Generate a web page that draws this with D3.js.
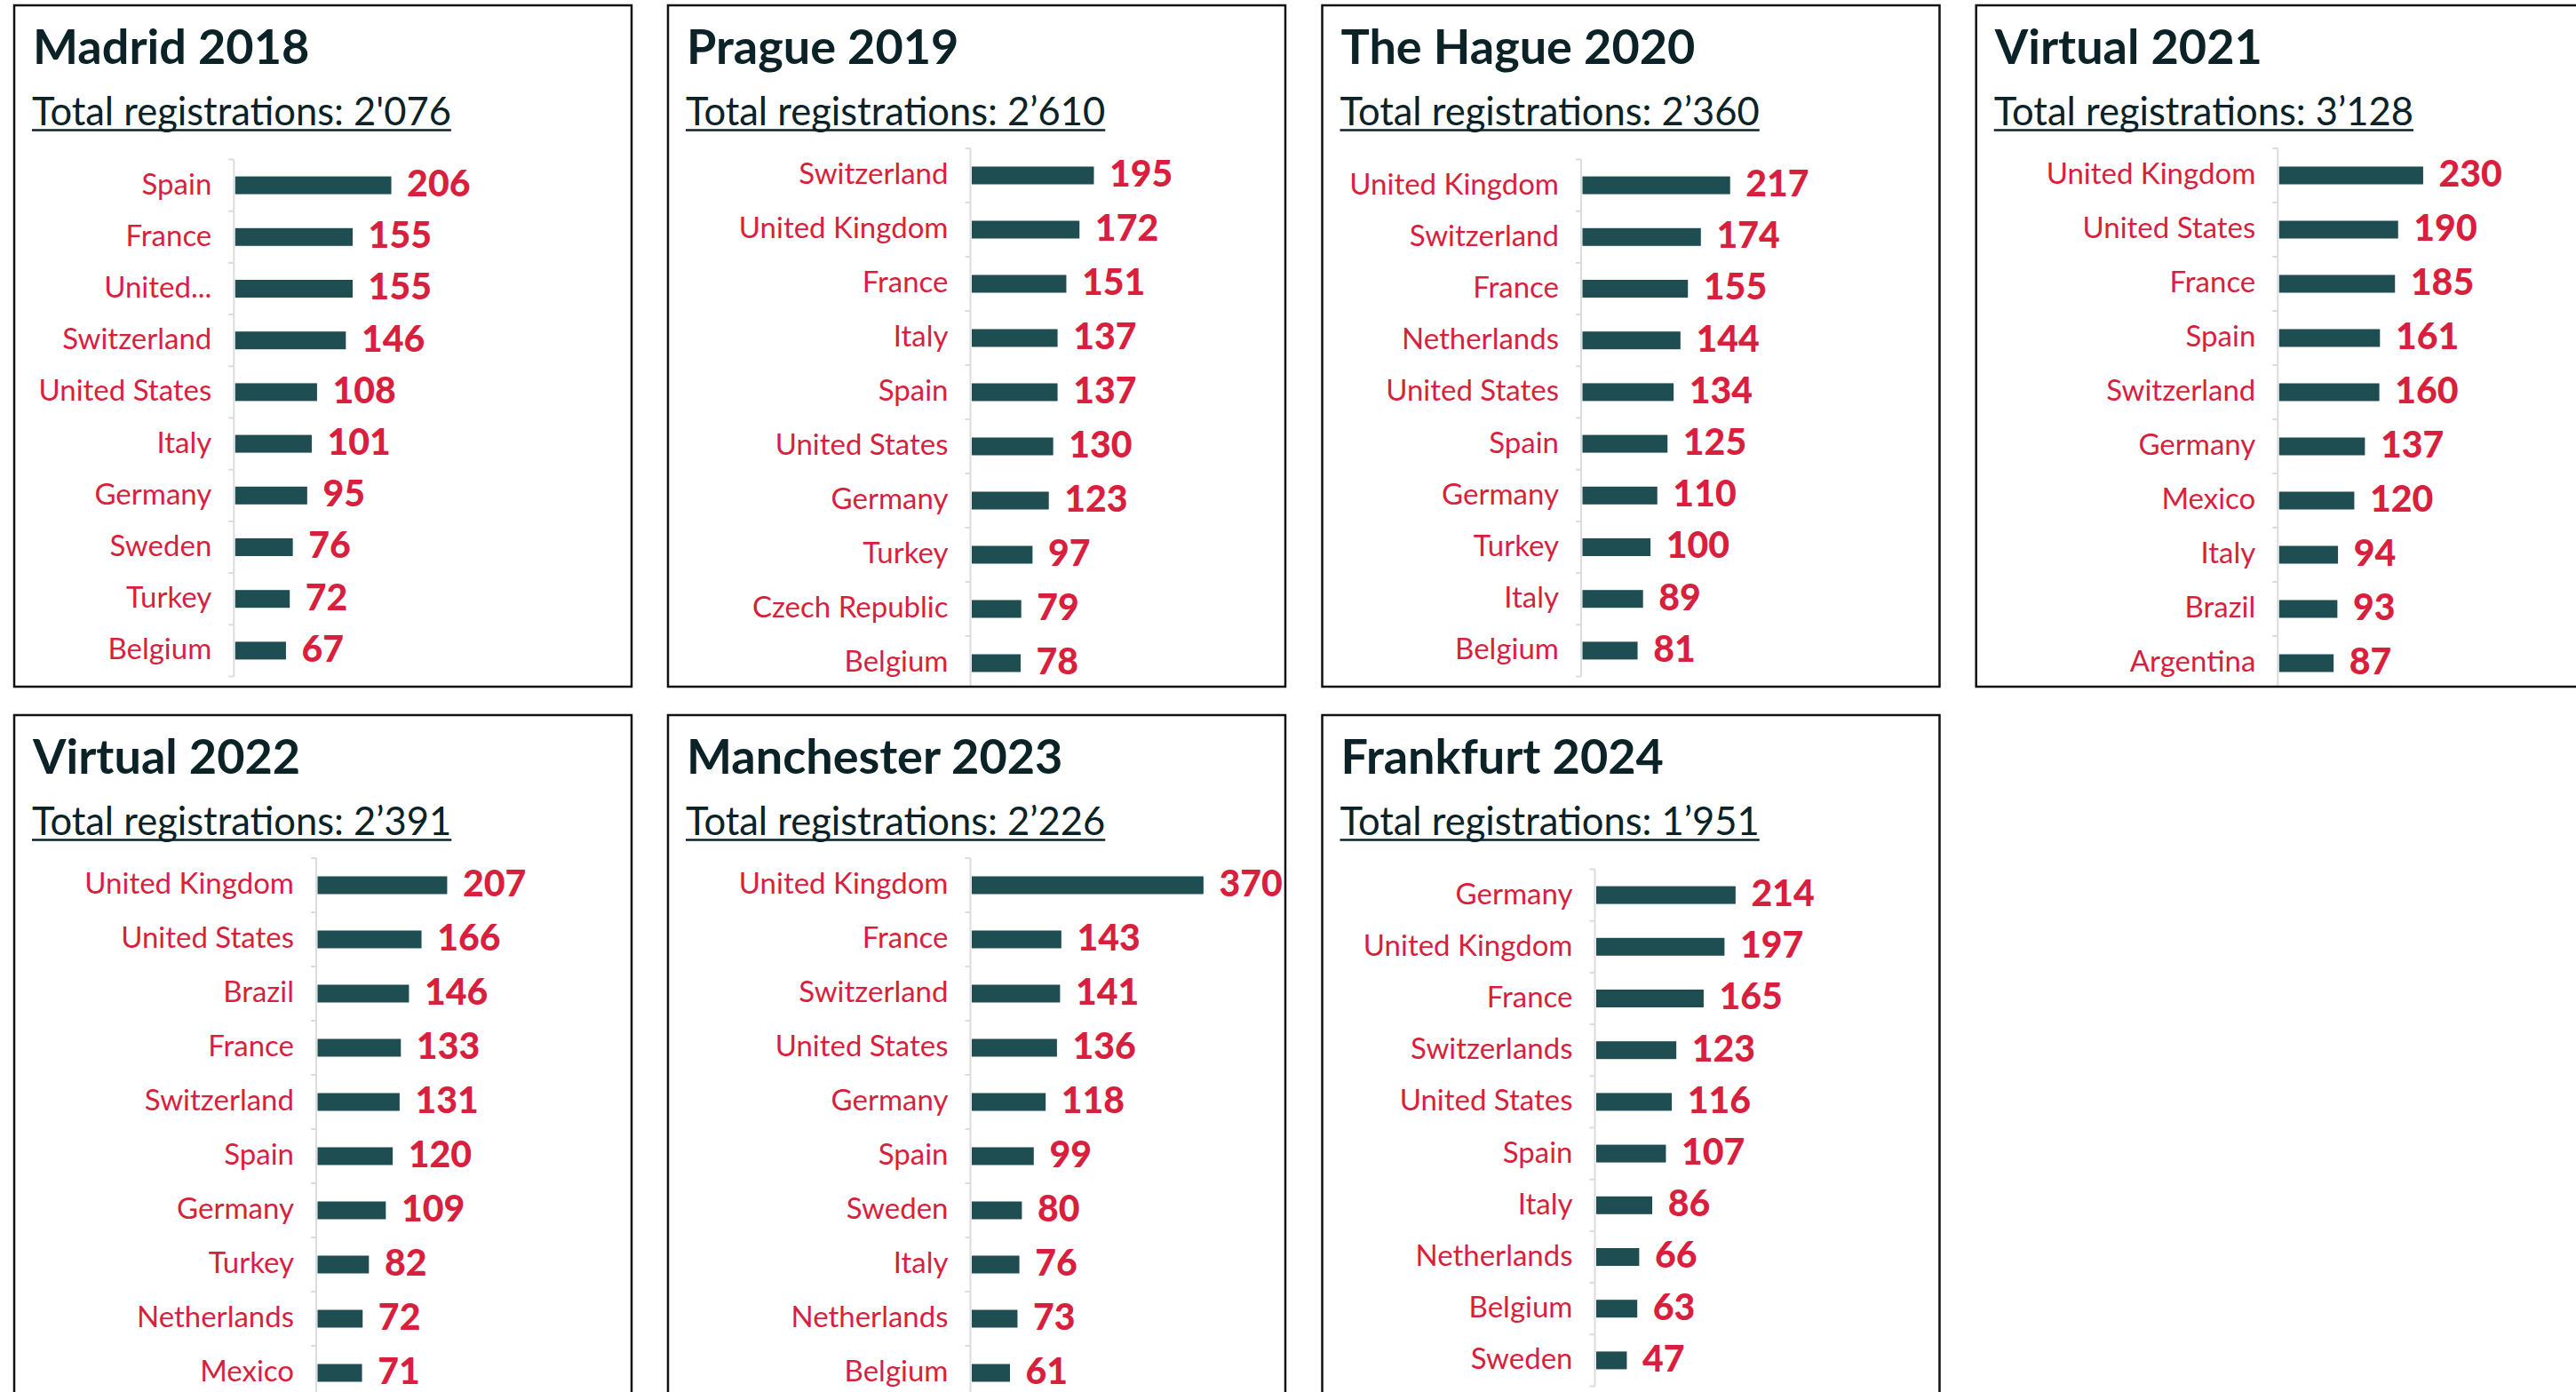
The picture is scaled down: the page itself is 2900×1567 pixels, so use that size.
<!DOCTYPE html>
<html>
<head>
<meta charset="utf-8">
<script src="https://cdn.jsdelivr.net/npm/d3@7"></script>
<style>
  body { margin: 0; background: #fff; }
  svg { display: block; }
</style>
</head>
<body>
<div id="chart"></div>
<script>
// registrations by country, one pair of arrays per event
const titles = ["Madrid 2018", "Prague 2019", "The Hague 2020", "Virtual 2021", "Virtual 2022", "Manchester 2023", "Frankfurt 2024"];
const totals = ["2'076", "2’610", "2’360", "3’128", "2’391", "2’226", "1’951"];

// the Madrid chart shows United Kingdom cut short
const madridCountries = ["Spain", "France", "United...", "Switzerland", "United States", "Italy", "Germany", "Sweden", "Turkey", "Belgium"];
const madridValues = [206, 155, 155, 146, 108, 101, 95, 76, 72, 67];

const pragueCountries = ["Switzerland", "United Kingdom", "France", "Italy", "Spain", "United States", "Germany", "Turkey", "Czech Republic", "Belgium"];
const pragueValues = [195, 172, 151, 137, 137, 130, 123, 97, 79, 78];

const hagueCountries = ["United Kingdom", "Switzerland", "France", "Netherlands", "United States", "Spain", "Germany", "Turkey", "Italy", "Belgium"];
const hagueValues = [217, 174, 155, 144, 134, 125, 110, 100, 89, 81];

const virtual21Countries = ["United Kingdom", "United States", "France", "Spain", "Switzerland", "Germany", "Mexico", "Italy", "Brazil", "Argentina"];
const virtual21Values = [230, 190, 185, 161, 160, 137, 120, 94, 93, 87];

const virtual22Countries = ["United Kingdom", "United States", "Brazil", "France", "Switzerland", "Spain", "Germany", "Turkey", "Netherlands", "Mexico"];
const virtual22Values = [207, 166, 146, 133, 131, 120, 109, 82, 72, 71];

const manchesterCountries = ["United Kingdom", "France", "Switzerland", "United States", "Germany", "Spain", "Sweden", "Italy", "Netherlands", "Belgium"];
const manchesterValues = [370, 143, 141, 136, 118, 99, 80, 76, 73, 61];

const frankfurtCountries = ["Germany", "United Kingdom", "France", "Switzerlands", "United States", "Spain", "Italy", "Netherlands", "Belgium", "Sweden"];
const frankfurtValues = [214, 197, 165, 123, 116, 107, 86, 66, 63, 47];

const countries = [madridCountries, pragueCountries, hagueCountries, virtual21Countries, virtual22Countries, manchesterCountries, frankfurtCountries];
const values = [madridValues, pragueValues, hagueValues, virtual21Values, virtual22Values, manchesterValues, frankfurtValues];

// layout
const width = 2900, height = 1567;
const panelW = 695, panelH = 767;
const dark = "#0b2327", red = "#d91f3e", teal = "#1f4e52", grey = "#dcdcdc";
const barH = 20;
const layouts = {
  A: {top: 173.5, step: 58.2},
  B: {top: 161, step: 61}
};
const panels = [
  {x: 16,     y: 6,   axis: 247.3, unit: 0.853, layout: "A"},
  {x: 752,    y: 6,   axis: 340.5, unit: 0.705, layout: "B"},
  {x: 1488.5, y: 6,   axis: 291.5, unit: 0.766, layout: "A"},
  {x: 2224.7, y: 6,   axis: 339.6, unit: 0.705, layout: "B"},
  {x: 16,     y: 805, axis: 340,   unit: 0.705, layout: "B"},
  {x: 752,    y: 805, axis: 340.5, unit: 0.705, layout: "B"},
  {x: 1488.5, y: 805, axis: 307,   unit: 0.733, layout: "A"}
];

const svg = d3.select("#chart").append("svg")
    .attr("width", width)
    .attr("height", height)
    .style("font-family", "Lato, sans-serif");

panels.forEach((p, i) => {
  const L = layouts[p.layout];
  const cats = countries[i];
  const vals = values[i];
  const n = cats.length;
  const pad = 1 - barH / L.step;

  const g = svg.append("g").attr("transform", `translate(${p.x},${p.y})`);

  g.append("clipPath").attr("id", `clip${i}`)
    .append("rect").attr("width", panelW).attr("height", panelH);

  // title + total
  g.append("text")
      .attr("x", 21)
      .attr("y", 65.6)
      .attr("font-size", 54)
      .attr("font-weight", 700)
      .attr("fill", dark)
      .text(titles[i]);

  const sub = g.append("text")
      .attr("x", 20)
      .attr("y", 134.8)
      .attr("font-size", 43.5)
      .attr("fill", dark)
      .text(`Total registrations: ${totals[i]}`);
  const subLen = sub.node().getComputedTextLength();
  g.append("line")
      .attr("x1", 20).attr("x2", 20 + subLen)
      .attr("y1", 140.5).attr("y2", 140.5)
      .attr("stroke", dark)
      .attr("stroke-width", 2.5);

  const y = d3.scaleBand()
      .domain(cats)
      .range([L.top, L.top + L.step * n])
      .paddingInner(pad)
      .paddingOuter(pad / 2);

  const x = d3.scaleLinear()
      .domain([0, 100])
      .range([0, 100 * p.unit]);

  const chart = g.append("g").attr("clip-path", `url(#clip${i})`);

  // axis line and ticks at band edges
  chart.append("line")
      .attr("x1", p.axis).attr("x2", p.axis)
      .attr("y1", L.top).attr("y2", L.top + L.step * n)
      .attr("stroke", grey)
      .attr("stroke-width", 2);

  chart.append("g")
    .selectAll("line")
    .data(d3.range(n + 1))
    .join("line")
      .attr("x1", p.axis - 6).attr("x2", p.axis)
      .attr("y1", d => L.top + d * L.step)
      .attr("y2", d => L.top + d * L.step)
      .attr("stroke", grey)
      .attr("stroke-width", 2);

  // country labels
  chart.append("g")
      .attr("transform", `translate(${p.axis},0)`)
      .call(d3.axisLeft(y).tickSize(0).tickPadding(25))
      .call(a => a.select(".domain").remove())
      .attr("font-family", "Lato, sans-serif")
      .attr("font-size", 33)
      .selectAll("text")
      .attr("fill", red)
      .attr("dy", "0.3em");

  const rows = cats.map((c, k) => ({c, v: vals[k]}));

  chart.append("g")
    .selectAll("rect")
    .data(rows)
    .join("rect")
      .attr("x", p.axis + 1.5)
      .attr("y", d => y(d.c))
      .attr("width", d => x(d.v))
      .attr("height", y.bandwidth())
      .attr("fill", teal);

  chart.append("g")
    .selectAll("text")
    .data(rows)
    .join("text")
      .attr("x", d => p.axis + 1.5 + x(d.v) + 17.6)
      .attr("y", d => y(d.c) + y.bandwidth() / 2)
      .attr("dy", "0.3em")
      .attr("font-size", 41)
      .attr("font-weight", 900)
      .attr("fill", red)
      .text(d => d.v);

  // panel frame
  g.append("rect")
      .attr("width", panelW)
      .attr("height", panelH)
      .attr("fill", "none")
      .attr("stroke", "#111")
      .attr("stroke-width", 2.5);
});
</script>
</body>
</html>
